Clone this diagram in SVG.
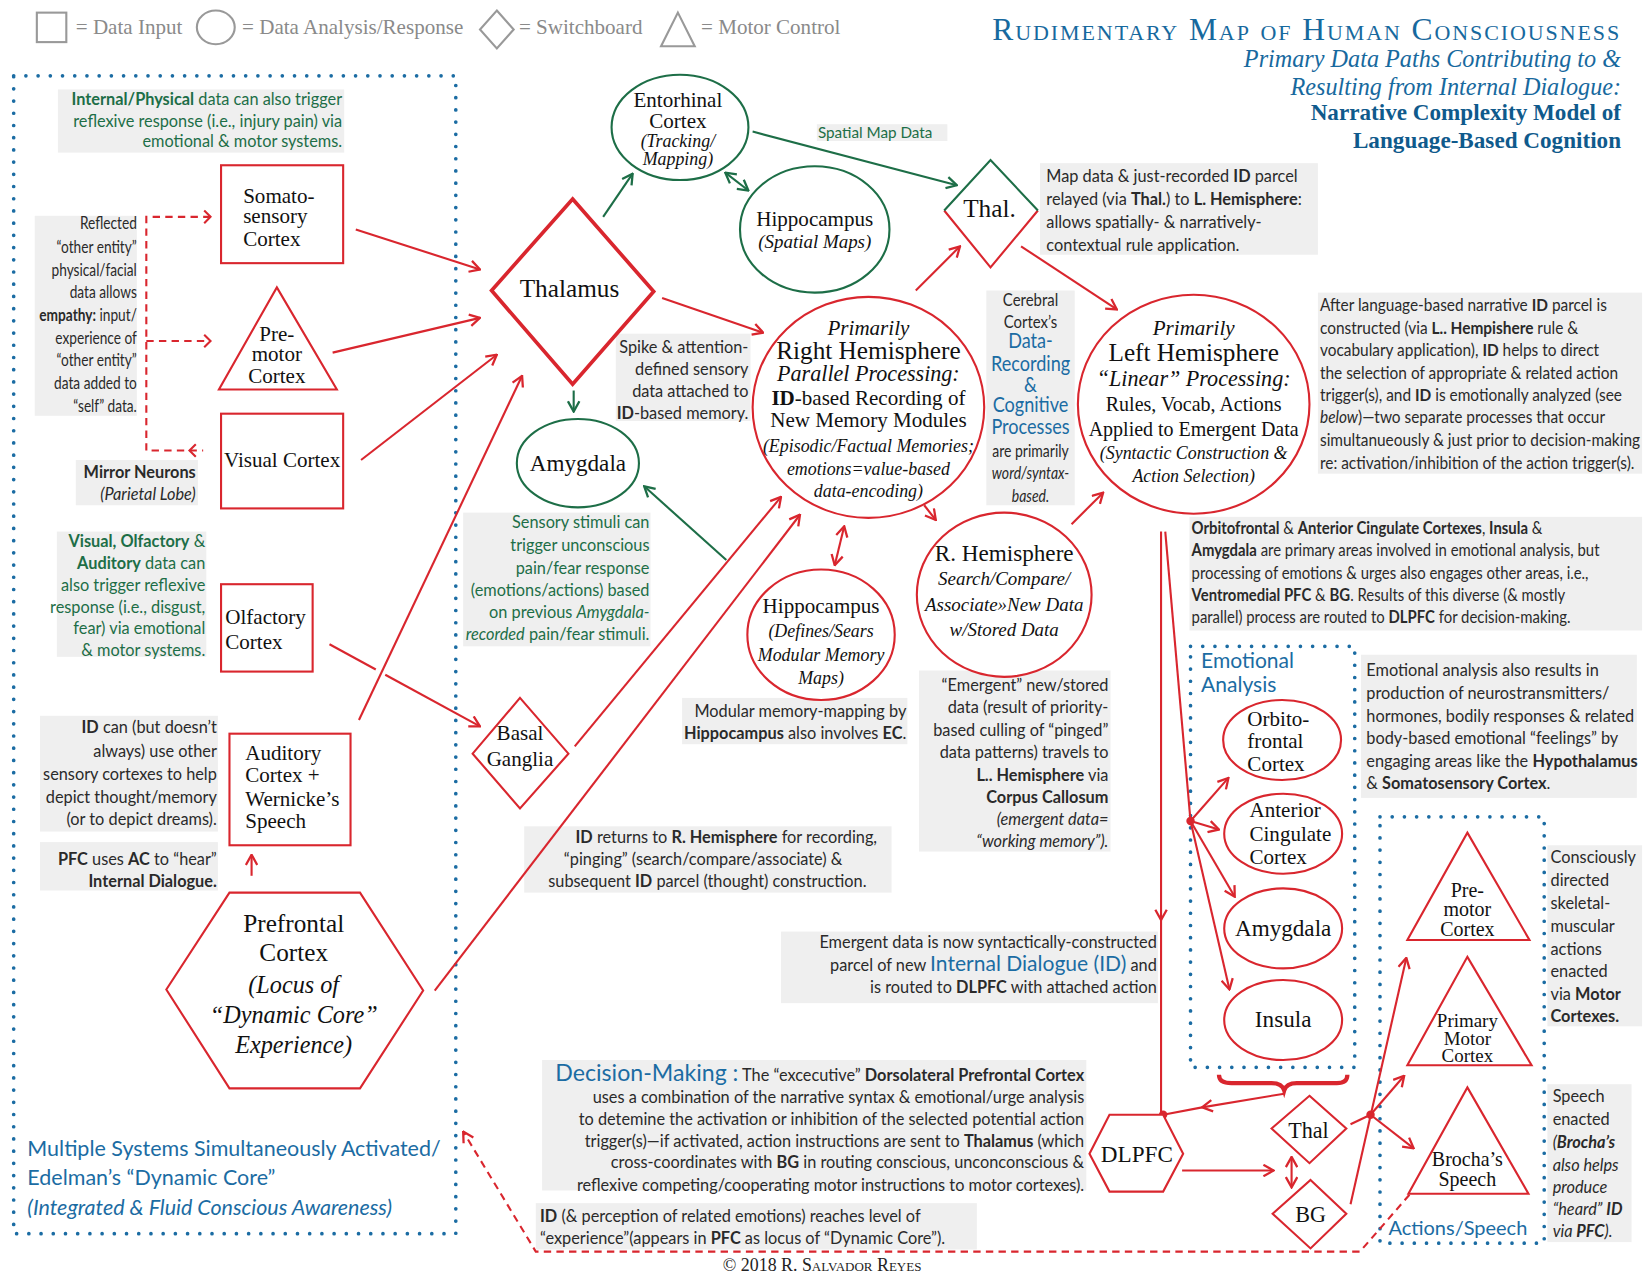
<svg xmlns="http://www.w3.org/2000/svg" width="1650" height="1275" viewBox="0 0 1650 1275">
<defs>
<style>
.n{font-family:"Liberation Serif",serif;fill:#111;text-anchor:middle;font-size:20px}
.nl{font-family:"Liberation Serif",serif;fill:#111;font-size:20px}
.i{font-style:italic}
.s{font-family:Lato,"Liberation Sans",sans-serif;font-size:15.5px;fill:#2a2a2a}
.g{fill:#1d6e47}
.bl{fill:#1b6ca3}
.b{font-weight:bold}
.e{text-anchor:end}
.m{text-anchor:middle}
.bg{fill:#efefef}
.lg{font-family:"Liberation Serif",serif;font-size:20px;fill:#8a8a8a}
.rs{fill:none;stroke:#d9262e;stroke-width:2}
.ra{fill:none;stroke:#d9262e;stroke-width:2;marker-end:url(#ar)}
.ga{fill:none;stroke:#1d6e47;stroke-width:2;marker-end:url(#ag)}
.rd{fill:none;stroke:#d9262e;stroke-width:2;stroke-dasharray:7 5}
.dot{fill:none;stroke:#1b6ca3;stroke-width:3.5;stroke-linecap:round;stroke-dasharray:0 11.6}
</style>
<marker id="ar" viewBox="0 0 12 12" refX="11" refY="6" markerWidth="13" markerHeight="13" orient="auto-start-reverse" markerUnits="userSpaceOnUse"><path d="M2,1 L11,6 L2,11" fill="none" stroke="#d9262e" stroke-width="2"/></marker>
<marker id="ag" viewBox="0 0 12 12" refX="11" refY="6" markerWidth="13" markerHeight="13" orient="auto-start-reverse" markerUnits="userSpaceOnUse"><path d="M2,1 L11,6 L2,11" fill="none" stroke="#1d6e47" stroke-width="2"/></marker>
</defs>
<rect width="1650" height="1275" fill="#fff"/>
<g transform="scale(1.05263)">

<g id="legend">
<rect x="35" y="12" width="28" height="28" fill="none" stroke="#999" stroke-width="2"/>
<text x="72" y="32" class="lg">= Data Input</text>
<ellipse cx="205" cy="26" rx="18" ry="16" fill="none" stroke="#999" stroke-width="2"/>
<text x="230" y="32" class="lg">= Data Analysis/Response</text>
<path d="M472,10 L488,28 L472,46 L456,28Z" fill="none" stroke="#999" stroke-width="2"/>
<text x="493" y="32" class="lg">= Switchboard</text>
<path d="M644,12 L660,44 L628,44Z" fill="none" stroke="#999" stroke-width="2"/>
<text x="666" y="32" class="lg">= Motor Control</text>
</g>

<g id="title" font-family="'Liberation Serif',serif" text-anchor="end">
<text x="1540" y="38" font-size="30" fill="#17699e" style="font-variant:small-caps" letter-spacing="1.8">Rudimentary Map of Human Consciousness</text>
<text x="1540" y="64" font-size="23" fill="#17699e" font-style="italic">Primary Data Paths Contributing to &amp;</text>
<text x="1540" y="90" font-size="23" fill="#17699e" font-style="italic">Resulting from Internal Dialogue:</text>
<text x="1540" y="114" font-size="22" fill="#0f5a8c" font-weight="bold">Narrative Complexity Model of</text>
<text x="1540" y="141" font-size="22" fill="#0f5a8c" font-weight="bold">Language-Based Cognition</text>
</g>

<g id="regions">
<rect class="dot" x="13" y="72" width="420" height="1100"/>
<rect class="dot" x="1131" y="614" width="156" height="400"/>
<rect class="dot" x="1311" y="776" width="156" height="405"/>
<text class="s bl" x="26" y="1098" style="font-size:20.4px">Multiple Systems Simultaneously Activated/</text>
<text class="s bl" x="26" y="1126" style="font-size:20.4px">Edelman’s “Dynamic Core”</text>
<text class="s bl i" x="26" y="1154" style="font-size:20.4px">(Integrated &amp; Fluid Conscious Awareness)</text>
<text class="s bl" x="1141" y="635" style="font-size:20px">Emotional</text>
<text class="s bl" x="1141" y="657" style="font-size:20px">Analysis</text>
<text class="s bl" x="1319" y="1173" style="font-size:19px">Actions/Speech</text>
</g>

<g id="notes">
<rect class="bg" x="55" y="85" width="272" height="60"/>
<text class="s g e" x="325" y="100"><tspan class="b">Internal/Physical</tspan> data can also trigger</text>
<text class="s g e" x="325" y="121">reflexive response (i.e., injury pain) via</text>
<text class="s g e" x="325" y="140">emotional &amp; motor systems.</text>

<rect class="bg" x="33" y="205" width="97" height="190"/>
<g transform="translate(130,0) scale(0.84,1)">
<text class="s e" x="0" y="218">Reflected</text>
<text class="s e" x="0" y="240">“other entity”</text>
<text class="s e" x="0" y="262">physical/facial</text>
<text class="s e" x="0" y="283">data allows</text>
<text class="s e" x="0" y="305"><tspan class="b">empathy:</tspan> input/</text>
<text class="s e" x="0" y="327">experience of</text>
<text class="s e" x="0" y="348">“other entity”</text>
<text class="s e" x="0" y="370">data added to</text>
<text class="s e" x="0" y="391">“self” data.</text>
</g>

<rect class="bg" x="72" y="437" width="116" height="43"/>
<text class="s e b" x="186" y="454">Mirror Neurons</text>
<text class="s e i" x="186" y="475">(Parietal Lobe)</text>

<rect class="bg" x="54" y="505" width="142" height="119"/>
<text class="s g e" x="195" y="520"><tspan class="b">Visual, Olfactory</tspan> &amp;</text>
<text class="s g e" x="195" y="541"><tspan class="b">Auditory</tspan> data can</text>
<text class="s g e" x="195" y="561">also trigger reflexive</text>
<text class="s g e" x="195" y="582">response (i.e., disgust,</text>
<text class="s g e" x="195" y="602">fear) via emotional</text>
<text class="s g e" x="195" y="623">&amp; motor systems.</text>

<rect class="bg" x="38" y="680" width="169" height="110"/>
<text class="s e" x="206" y="696"><tspan class="b">ID</tspan> can (but doesn’t</text>
<text class="s e" x="206" y="719">always) use other</text>
<text class="s e" x="206" y="741">sensory cortexes to help</text>
<text class="s e" x="206" y="763">depict thought/memory</text>
<text class="s e" x="206" y="784">(or to depict dreams).</text>

<rect class="bg" x="38" y="800" width="169" height="46"/>
<text class="s e" x="206" y="822"><tspan class="b">PFC</tspan> uses <tspan class="b">AC</tspan> to “hear”</text>
<text class="s e b" x="206" y="843">Internal Dialogue.</text>

<rect class="bg" x="776" y="118" width="124" height="16"/>
<text class="s g" x="777" y="131" style="font-size:14.5px">Spatial Map Data</text>

<rect class="bg" x="988" y="155" width="264" height="87"/>
<text class="s" x="994" y="173">Map data &amp; just-recorded <tspan class="b">ID</tspan> parcel</text>
<text class="s" x="994" y="195">relayed (via <tspan class="b">Thal.</tspan>) to <tspan class="b">L. Hemisphere</tspan>:</text>
<text class="s" x="994" y="217">allows spatially- &amp; narratively-</text>
<text class="s" x="994" y="238">contextual rule application.</text>

<rect class="bg" x="585" y="317" width="128" height="83"/>
<text class="s e" x="711" y="335">Spike &amp; attention-</text>
<text class="s e" x="711" y="356">defined sensory</text>
<text class="s e" x="711" y="377">data attached to</text>
<text class="s e" x="711" y="398"><tspan class="b">ID</tspan>-based memory.</text>

<rect class="bg" x="937" y="276" width="84" height="204"/>
<g transform="translate(979,0) scale(0.86,1)">
<text class="s m" x="0" y="291" style="font-size:16.5px">Cerebral</text>
<text class="s m" x="0" y="312" style="font-size:16.5px">Cortex’s</text>
<text class="s m bl" x="0" y="331" style="font-size:20px">Data-</text>
<text class="s m bl" x="0" y="352" style="font-size:20px">Recording</text>
<text class="s m bl" x="0" y="372" style="font-size:20px">&amp;</text>
<text class="s m bl" x="0" y="391" style="font-size:20px">Cognitive</text>
<text class="s m bl" x="0" y="412" style="font-size:20px">Processes</text>
<text class="s m" x="0" y="434">are primarily</text>
<text class="s m i" x="0" y="455">word/syntax-</text>
<text class="s m i" x="0" y="477">based.</text>
</g>

<rect class="bg" x="1252" y="278" width="308" height="172"/>
<g transform="translate(1254,0) scale(0.945,1)">
<text class="s" x="0" y="295">After language-based narrative <tspan class="b">ID</tspan> parcel is</text>
<text class="s" x="0" y="317">constructed (via <tspan class="b">L.. Hempishere</tspan> rule &amp;</text>
<text class="s" x="0" y="338">vocabulary application), <tspan class="b">ID</tspan> helps to direct</text>
<text class="s" x="0" y="360">the selection of appropriate &amp; related action</text>
<text class="s" x="0" y="381">trigger(s), and <tspan class="b">ID</tspan> is emotionally analyzed (see</text>
<text class="s" x="0" y="402"><tspan class="i">below</tspan>)—two separate processes that occur</text>
<text class="s" x="0" y="424">simultanueously &amp; just prior to decision-making</text>
<text class="s" x="0" y="446">re: activation/inhibition of the action trigger(s).</text>
</g>

<rect class="bg" x="440" y="487" width="178" height="127"/>
<text class="s g e" x="617" y="502">Sensory stimuli can</text>
<text class="s g e" x="617" y="523">trigger unconscious</text>
<text class="s g e" x="617" y="545">pain/fear response</text>
<text class="s g e" x="617" y="566">(emotions/actions) based</text>
<text class="s g e" x="617" y="587">on previous <tspan class="i">Amygdala-</tspan></text>
<text class="s g e" x="617" y="608"><tspan class="i">recorded</tspan> pain/fear stimuli.</text>

<rect class="bg" x="1130" y="491" width="430" height="108"/>
<g transform="translate(1132,0) scale(0.913,1)">
<text class="s" x="0" y="507"><tspan class="b">Orbitofrontal</tspan> &amp; <tspan class="b">Anterior Cingulate Cortexes</tspan>, <tspan class="b">Insula</tspan> &amp;</text>
<text class="s" x="0" y="528"><tspan class="b">Amygdala</tspan> are primary areas involved in emotional analysis, but</text>
<text class="s" x="0" y="550">processing of emotions &amp; urges also engages other areas, i.e.,</text>
<text class="s" x="0" y="571"><tspan class="b">Ventromedial PFC</tspan> &amp; <tspan class="b">BG</tspan>. Results of this diverse (&amp; mostly</text>
<text class="s" x="0" y="592">parallel) process are routed to <tspan class="b">DLPFC</tspan> for decision-making.</text>
</g>

<rect class="bg" x="1293" y="622" width="262" height="136"/>
<text class="s" x="1298" y="642">Emotional analysis also results in</text>
<text class="s" x="1298" y="664">production of neurostransmitters/</text>
<text class="s" x="1298" y="686">hormones, bodily responses &amp; related</text>
<text class="s" x="1298" y="707">body-based emotional “feelings” by</text>
<text class="s" x="1298" y="729">engaging areas like the <tspan class="b">Hypothalamus</tspan></text>
<text class="s" x="1298" y="750">&amp; <tspan class="b">Somatosensory Cortex</tspan>.</text>

<rect class="bg" x="648" y="663" width="214" height="44"/>
<text class="s e" x="861" y="681">Modular memory-mapping by</text>
<text class="s e" x="861" y="702"><tspan class="b">Hippocampus</tspan> also involves <tspan class="b">EC</tspan>.</text>

<rect class="bg" x="873" y="637" width="182" height="172"/>
<text class="s e" x="1053" y="656">“Emergent” new/stored</text>
<text class="s e" x="1053" y="677">data (result of priority-</text>
<text class="s e" x="1053" y="699">based culling of “pinged”</text>
<text class="s e" x="1053" y="720">data patterns) travels to</text>
<text class="s e" x="1053" y="742"><tspan class="b">L.. Hemisphere</tspan> via</text>
<text class="s e b" x="1053" y="763">Corpus Callosum</text>
<text class="s e i" x="1053" y="784">(emergent data=</text>
<text class="s e i" x="1053" y="805">“working memory”).</text>

<rect class="bg" x="498" y="785" width="349" height="63"/>
<text class="s m" x="690" y="801"><tspan class="b">ID</tspan> returns to <tspan class="b">R. Hemisphere</tspan> for recording,</text>
<text class="s m" x="668" y="822">“pinging” (search/compare/associate) &amp;</text>
<text class="s m" x="672" y="843">subsequent <tspan class="b">ID</tspan> parcel (thought) construction.</text>

<rect class="bg" x="742" y="885" width="358" height="68"/>
<text class="s e" x="1099" y="901">Emergent data is now syntactically-constructed</text>
<text class="s e" x="1099" y="922">parcel of new <tspan class="bl" font-size="20">Internal Dialogue (ID)</tspan> and</text>
<text class="s e" x="1099" y="943">is routed to <tspan class="b">DLPFC</tspan> with attached action</text>

<rect class="bg" x="1470" y="803" width="90" height="172"/>
<text class="s" x="1473" y="820">Consciously</text>
<text class="s" x="1473" y="842">directed</text>
<text class="s" x="1473" y="864">skeletal-</text>
<text class="s" x="1473" y="885">muscular</text>
<text class="s" x="1473" y="907">actions</text>
<text class="s" x="1473" y="928">enacted</text>
<text class="s" x="1473" y="950">via <tspan class="b">Motor</tspan></text>
<text class="s b" x="1473" y="971">Cortexes.</text>

<rect class="bg" x="1470" y="1030" width="80" height="150"/>
<text class="s" x="1475" y="1047">Speech</text>
<text class="s" x="1475" y="1069">enacted</text>
<text class="s i" x="1475" y="1091">(<tspan class="b">Brocha’s</tspan></text>
<text class="s i" x="1475" y="1112">also helps</text>
<text class="s i" x="1475" y="1133">produce</text>
<text class="s i" x="1475" y="1154">“heard” <tspan class="b">ID</tspan></text>
<text class="s i" x="1475" y="1175">via <tspan class="b">PFC</tspan>).</text>

<rect class="bg" x="515" y="1007" width="517" height="124"/>
<text class="s e" x="1030" y="1027"><tspan class="bl" font-size="22">Decision-Making :</tspan> The “excecutive” <tspan class="b">Dorsolateral Prefrontal Cortex</tspan></text>
<text class="s e" x="1030" y="1048">uses a combination of the narrative syntax &amp; emotional/urge analysis</text>
<text class="s e" x="1030" y="1069">to detemine the activation or inhibition of the selected potential action</text>
<text class="s e" x="1030" y="1090">trigger(s)—if activated, action instructions are sent to <tspan class="b">Thalamus</tspan> (which</text>
<text class="s e" x="1030" y="1110">cross-coordinates with <tspan class="b">BG</tspan> in routing conscious, unconconscious &amp;</text>
<text class="s e" x="1030" y="1131">reflexive competing/cooperating motor instructions to motor cortexes).</text>

<rect class="bg" x="509" y="1143" width="419" height="44"/>
<text class="s" x="513" y="1161"><tspan class="b">ID</tspan> (&amp; perception of related emotions) reaches level of</text>
<text class="s" x="513" y="1182">“experience”(appears in <tspan class="b">PFC</tspan> as locus of “Dynamic Core”).</text>

<text x="781" y="1207" font-family="'Liberation Serif',serif" font-size="17" fill="#222" text-anchor="middle" style="font-variant:small-caps">© 2018 R. Salvador Reyes</text>
</g>

<g id="connectors">
<path class="ra" d="M338,218 L456,256"/>
<path class="ra" d="M316,335 L456,302"/>
<path class="ra" d="M343,437 L472,337"/>
<path class="ra" d="M341,684 L496,357"/>
<path class="rs" d="M313,612 L357,636"/>
<path class="ra" d="M366,641 L456,690"/>
<path class="ra" d="M629,283 L725,316"/>
<path class="ra" d="M546,709 L742,472"/>
<path class="ra" d="M413,941 L760,489"/>
<path class="ra" d="M878,480 L889,494"/>
<path class="ra" d="M802,500 L793,537" style="marker-start:url(#ar)"/>
<path class="ra" d="M870,276 L912,234"/>
<path class="ra" d="M970,234 L1061,294"/>
<path class="ra" d="M1018,498 L1048,468"/>
<path class="ra" d="M1103,505 L1103,874"/>
<path class="rs" d="M1103,874 L1103,1059"/>
<path class="rs" d="M1107,505 L1131,780"/>
<path class="ra" d="M1131,780 L1167,739"/>
<path class="ra" d="M1131,780 L1158,788"/>
<path class="ra" d="M1131,780 L1173,852"/>
<path class="ra" d="M1131,780 L1168,940"/>
<path class="ra" d="M1220,1039 L1142,1052"/>
<path class="rs" d="M1142,1052 L1105,1059"/>
<path d="M1158,1021 Q1158,1029 1170,1029 L1208,1029 Q1218,1029 1220,1036 Q1222,1029 1232,1029 L1270,1029 Q1280,1029 1280,1021" fill="none" stroke="#d9262e" stroke-width="4"/>
<path class="ra" d="M1123,1112 L1210,1112"/>
<path class="ra" d="M1227,1099 L1227,1128" style="marker-start:url(#ar)"/>
<path class="rs" d="M1283,1068 L1302,1059"/>
<path class="ra" d="M1283,1144 L1336,910"/>
<path class="ra" d="M1302,1059 L1334,1022"/>
<path class="ra" d="M1302,1059 L1343,1091"/>
<path class="ra" d="M239,832 L239,812"/>
<path class="rd" d="M1339,1135 L1292,1189 L509,1189 L440,1075" style="marker-end:url(#ar)"/>
<path class="rd" d="M200,206 L139,206 L139,428 L193,428"/>
<path class="rd" d="M139,324 L200,324"/>
<path d="M194,200 L200,206 L194,212 M194,318 L200,324 L194,330 M186,422 L180,428 L186,434" fill="none" stroke="#d9262e" stroke-width="2"/>
<path class="ga" d="M573,206 L601,165"/>
<path class="ga" d="M545,371 L545,391"/>
<path class="ga" d="M689,164 L711,181" style="marker-start:url(#ag)"/>
<path class="ga" d="M715,125 L909,176"/>
<path class="ga" d="M690,532 L612,462"/>
<circle cx="1131" cy="780" r="4" fill="#d9262e"/>
<circle cx="1105" cy="1059" r="4" fill="#d9262e"/>
<circle cx="1302" cy="1059" r="4" fill="#d9262e"/>
</g>

<g id="somatosensory">
<rect x="210" y="157" width="116" height="93" fill="#fff" stroke="#d9262e" stroke-width="2"/>
<text class="nl" x="231" y="193">Somato-</text>
<text class="nl" x="231" y="212">sensory</text>
<text class="nl" x="231" y="234">Cortex</text>
</g>
<g id="premotor-left">
<path d="M263,273 L320,370 L208,370Z" fill="#fff" stroke="#d9262e" stroke-width="2"/>
<text class="n" x="263" y="324">Pre-</text>
<text class="n" x="263" y="343">motor</text>
<text class="n" x="263" y="364">Cortex</text>
</g>
<g id="visual">
<rect x="210" y="393" width="116" height="90" fill="#fff" stroke="#d9262e" stroke-width="2"/>
<text class="n" x="268" y="444">Visual Cortex</text>
</g>
<g id="olfactory">
<rect x="210" y="555" width="87" height="83" fill="#fff" stroke="#d9262e" stroke-width="2"/>
<text class="nl" x="214" y="593">Olfactory</text>
<text class="nl" x="214" y="617">Cortex</text>
</g>
<g id="auditory">
<rect x="218" y="697" width="115" height="106" fill="#fff" stroke="#d9262e" stroke-width="2"/>
<text class="nl" x="233" y="722">Auditory</text>
<text class="nl" x="233" y="743">Cortex +</text>
<text class="nl" x="233" y="766">Wernicke’s</text>
<text class="nl" x="233" y="787">Speech</text>
</g>
<g id="pfc">
<path d="M158,940 L218,848 L342,848 L402,941 L342,1034 L218,1034Z" fill="#fff" stroke="#d9262e" stroke-width="2"/>
<text class="n" x="279" y="885" style="font-size:24px">Prefrontal</text>
<text class="n" x="279" y="913" style="font-size:24px">Cortex</text>
<text class="n i" x="279" y="943" style="font-size:23px">(Locus of</text>
<text class="n i" x="279" y="972" style="font-size:23px">“Dynamic Core”</text>
<text class="n i" x="279" y="1000" style="font-size:23px">Experience)</text>
</g>
<g id="thalamus">
<path d="M544,189 L621,277 L544,365 L467,276Z" fill="#fff" stroke="#d9262e" stroke-width="3.5"/>
<text class="n" x="541" y="282" style="font-size:24px">Thalamus</text>
</g>
<g id="entorhinal">
<ellipse cx="646" cy="121" rx="65" ry="50" fill="#fff" stroke="#1d6e47" stroke-width="2"/>
<text class="n" x="644" y="102">Entorhinal</text>
<text class="n" x="644" y="122">Cortex</text>
<text class="n i" x="644" y="140" style="font-size:17px">(Tracking/</text>
<text class="n i" x="644" y="157" style="font-size:17px">Mapping)</text>
</g>
<g id="hippocampus-spatial">
<ellipse cx="774" cy="218" rx="71" ry="60" fill="#fff" stroke="#1d6e47" stroke-width="2"/>
<text class="n" x="774" y="215">Hippocampus</text>
<text class="n i" x="774" y="236" style="font-size:18px">(Spatial Maps)</text>
</g>
<g id="thal-small">
<path d="M897,200 L941,254 L986,200" fill="#fff" stroke="#d9262e" stroke-width="2"/>
<path d="M897,200 L941,152 L986,200" fill="none" stroke="#1d6e47" stroke-width="2"/>
<text class="n" x="940" y="206" style="font-size:24px">Thal.</text>
</g>
<g id="amygdala-left">
<ellipse cx="549" cy="440" rx="58" ry="42" fill="#fff" stroke="#1d6e47" stroke-width="2"/>
<text class="n" x="549" y="447" style="font-size:22px">Amygdala</text>
</g>
<g id="right-hemisphere">
<ellipse cx="825" cy="387" rx="110" ry="105" fill="#fff" stroke="#d9262e" stroke-width="2"/>
<text class="n i" x="825" y="318">Primarily</text>
<text class="n" x="825" y="341" style="font-size:24px">Right Hemisphere</text>
<text class="n i" x="825" y="362" style="font-size:21px">Parallel Processing:</text>
<text class="n" x="825" y="385"><tspan font-weight="bold">ID</tspan>-based Recording of</text>
<text class="n" x="825" y="406">New Memory Modules</text>
<text class="n i" x="825" y="429" style="font-size:17px">(Episodic/Factual Memories;</text>
<text class="n i" x="825" y="451" style="font-size:17px">emotions=value-based</text>
<text class="n i" x="825" y="472" style="font-size:17px">data-encoding)</text>
</g>
<g id="left-hemisphere">
<ellipse cx="1134" cy="384" rx="110" ry="104" fill="#fff" stroke="#d9262e" stroke-width="2"/>
<text class="n i" x="1134" y="318">Primarily</text>
<text class="n" x="1134" y="343" style="font-size:24px">Left Hemisphere</text>
<text class="n i" x="1134" y="367" style="font-size:21px">“Linear” Processing:</text>
<text class="n" x="1134" y="390" style="font-size:19px">Rules, Vocab, Actions</text>
<text class="n" x="1134" y="414" style="font-size:19px">Applied to Emergent Data</text>
<text class="n i" x="1134" y="436" style="font-size:17px">(Syntactic Construction &amp;</text>
<text class="n i" x="1134" y="458" style="font-size:17px">Action Selection)</text>
</g>
<g id="basal-ganglia">
<path d="M494,663 L540,716 L494,768 L449,716Z" fill="#fff" stroke="#d9262e" stroke-width="2"/>
<text class="n" x="494" y="703">Basal</text>
<text class="n" x="494" y="728">Ganglia</text>
</g>
<g id="hippocampus-modular">
<ellipse cx="780" cy="603" rx="70" ry="62" fill="#fff" stroke="#d9262e" stroke-width="2"/>
<text class="n" x="780" y="582">Hippocampus</text>
<text class="n i" x="780" y="605" style="font-size:17px">(Defines/Sears</text>
<text class="n i" x="780" y="628" style="font-size:17px">Modular Memory</text>
<text class="n i" x="780" y="650" style="font-size:17px">Maps)</text>
</g>
<g id="r-hemisphere-search">
<ellipse cx="954" cy="565" rx="83" ry="78" fill="#fff" stroke="#d9262e" stroke-width="2"/>
<text class="n" x="954" y="533" style="font-size:22px">R. Hemisphere</text>
<text class="n i" x="954" y="556" style="font-size:18px">Search/Compare/</text>
<text class="n i" x="954" y="580" style="font-size:18px">Associate»New Data</text>
<text class="n i" x="954" y="604" style="font-size:18px">w/Stored Data</text>
</g>
<g id="orbitofrontal">
<ellipse cx="1218" cy="703" rx="56" ry="38" fill="#fff" stroke="#d9262e" stroke-width="2"/>
<text class="nl" x="1185" y="690">Orbito-</text>
<text class="nl" x="1185" y="711">frontal</text>
<text class="nl" x="1185" y="732">Cortex</text>
</g>
<g id="anterior-cingulate">
<ellipse cx="1219" cy="792" rx="56" ry="38" fill="#fff" stroke="#d9262e" stroke-width="2"/>
<text class="nl" x="1187" y="776">Anterior</text>
<text class="nl" x="1187" y="799">Cingulate</text>
<text class="nl" x="1187" y="821">Cortex</text>
</g>
<g id="amygdala-right">
<ellipse cx="1219" cy="882" rx="56" ry="38" fill="#fff" stroke="#d9262e" stroke-width="2"/>
<text class="n" x="1219" y="889" style="font-size:22px">Amygdala</text>
</g>
<g id="insula">
<ellipse cx="1219" cy="969" rx="56" ry="38" fill="#fff" stroke="#d9262e" stroke-width="2"/>
<text class="n" x="1219" y="976" style="font-size:22px">Insula</text>
</g>
<g id="dlpfc">
<path d="M1035,1096 L1054,1059 L1105,1059 L1124,1096 L1105,1132 L1054,1132Z" fill="#fff" stroke="#d9262e" stroke-width="2"/>
<text class="n" x="1080" y="1104" style="font-size:22px">DLPFC</text>
</g>
<g id="thal-motor">
<path d="M1244,1041 L1279,1072 L1244,1105 L1208,1072Z" fill="#fff" stroke="#d9262e" stroke-width="2"/>
<text class="n" x="1243" y="1081" style="font-size:21px">Thal</text>
</g>
<g id="bg">
<path d="M1245,1121 L1279,1153 L1245,1186 L1209,1153Z" fill="#fff" stroke="#d9262e" stroke-width="2"/>
<text class="n" x="1245" y="1161" style="font-size:21px">BG</text>
</g>
<g id="premotor-right">
<path d="M1394,791 L1453,893 L1337,893Z" fill="#fff" stroke="#d9262e" stroke-width="2"/>
<text class="n" x="1394" y="852" style="font-size:19px">Pre-</text>
<text class="n" x="1394" y="870" style="font-size:19px">motor</text>
<text class="n" x="1394" y="889" style="font-size:19px">Cortex</text>
</g>
<g id="primary-motor">
<path d="M1394,909 L1455,1012 L1337,1012Z" fill="#fff" stroke="#d9262e" stroke-width="2"/>
<text class="n" x="1394" y="976" style="font-size:18px">Primary</text>
<text class="n" x="1394" y="993" style="font-size:18px">Motor</text>
<text class="n" x="1394" y="1009" style="font-size:18px">Cortex</text>
</g>
<g id="brochas">
<path d="M1394,1033 L1452,1134 L1338,1134Z" fill="#fff" stroke="#d9262e" stroke-width="2"/>
<text class="n" x="1394" y="1108" style="font-size:19px">Brocha’s</text>
<text class="n" x="1394" y="1127" style="font-size:19px">Speech</text>
</g>

</g>
</svg>
